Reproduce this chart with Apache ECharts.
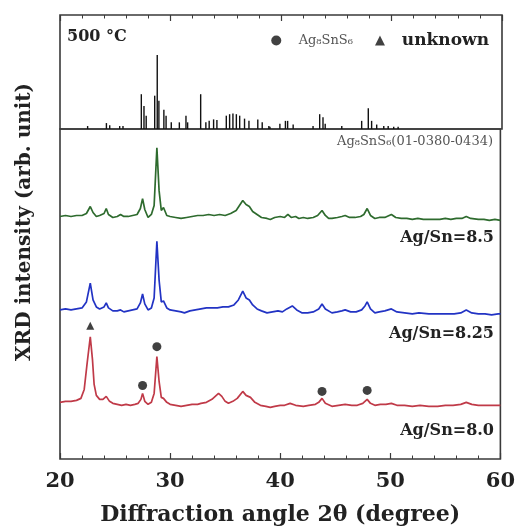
<!DOCTYPE html>
<html><head><meta charset="utf-8">
<script src="https://cdn.jsdelivr.net/npm/echarts@6/dist/echarts.min.js"></script>
<style>html,body{margin:0;padding:0;background:#fff}#c{width:518px;height:531px}</style>
</head><body><div id="c"></div>
<script>
// Reference stick pattern Ag8SnS6 (01-0380-0434): [2theta, relative intensity]
const refSticks = [
 [22.5,4],[24.2,8],[24.5,5],[25.4,4],[25.7,4],[27.36,47],[27.6,31],[27.8,18],
 [28.57,45],[28.8,100],[28.95,38],[29.4,26],[29.6,18],[30.07,9],[30.8,9],[31.4,18],[31.55,9],
 [32.73,47],[33.2,9],[33.5,11],[33.9,13],[34.2,12],[35.05,18],[35.35,20],[35.65,21],[35.96,20],
 [36.26,18],[36.7,14],[37.1,11],[37.9,13],[38.3,9],[38.9,4],[39.0,3],[39.9,7],[40.4,11],[40.6,11],
 [41.1,6],[42.9,4],[43.5,20],[43.8,16],[44.0,7],[45.5,4],[47.3,11],[47.9,28],[48.2,11],[48.66,6],
 [49.3,4],[49.7,4],[50.2,3],[50.6,3]
];
// Ag/Sn = 8.5 (green), offset included
const ag85 = [
 [20.0,244],[20.5,245],[21.0,244],[21.5,245],[22.0,245],[22.4,247],[22.75,254],[23.0,248],[23.3,244],[23.6,245],
 [24.0,247],[24.2,252],[24.4,246],[24.8,243],[25.2,244],[25.5,246],[25.8,244],[26.2,244],[26.6,245],[27.0,246],
 [27.3,252],[27.5,262],[27.7,251],[28.0,243],[28.3,246],[28.55,255],[28.8,313],[29.0,270],[29.2,250],[29.4,253],
 [29.7,245],[30.0,244],[30.5,243],[31.0,242],[31.5,243],[32.0,244],[32.5,245],[33.0,245],[33.5,246],[34.0,245],
 [34.5,246],[35.0,245],[35.5,247],[36.0,250],[36.3,255],[36.6,260],[36.9,256],[37.2,254],[37.5,249],[37.9,246],
 [38.3,243],[38.8,242],[39.1,241],[39.5,243],[40.0,244],[40.4,243],[40.7,246],[41.0,243],[41.4,244],[41.7,242],
 [42.1,243],[42.5,242],[43.0,243],[43.4,245],[43.8,250],[44.1,245],[44.4,242],[44.7,242],[45.2,243],[45.6,244],
 [45.9,245],[46.3,243],[46.8,243],[47.3,244],[47.6,246],[47.9,252],[48.2,245],[48.6,242],[49.0,243],[49.5,243],
 [50.1,246],[50.5,243],[51.0,242],[51.5,242],[52.0,241],[52.5,242],[53.0,241],[53.5,241],[54.0,241],[54.5,241],
 [55.0,242],[55.5,241],[56.0,242],[56.5,242],[56.9,244],[57.3,242],[58.0,241],[58.5,241],[59.0,240],[59.5,241],[60.0,240]
];
// Ag/Sn = 8.25 (blue)
const ag825 = [
 [20.0,150],[20.5,151],[21.0,150],[21.5,151],[22.0,152],[22.4,158],[22.75,177],[23.0,160],[23.3,153],[23.6,151],
 [24.0,153],[24.2,157],[24.4,152],[24.8,149],[25.2,149],[25.5,150],[25.8,148],[26.2,149],[26.6,150],[27.0,151],
 [27.3,157],[27.5,166],[27.7,156],[28.0,150],[28.3,152],[28.55,162],[28.8,219],[29.0,180],[29.2,158],[29.4,159],
 [29.7,152],[30.0,150],[30.5,149],[31.0,148],[31.3,147],[31.8,149],[32.3,150],[32.8,151],[33.3,152],[33.8,152],
 [34.3,152],[34.8,153],[35.3,153],[35.8,155],[36.2,160],[36.6,169],[36.9,162],[37.2,160],[37.5,155],[37.9,151],
 [38.3,149],[38.8,147],[39.3,148],[39.8,149],[40.2,148],[40.6,151],[41.1,154],[41.5,150],[42.0,147],[42.5,147],
 [43.0,148],[43.5,151],[43.8,156],[44.1,151],[44.7,147],[45.2,148],[45.6,149],[45.9,150],[46.4,148],[46.9,148],
 [47.4,150],[47.7,154],[47.9,158],[48.2,151],[48.6,147],[49.0,148],[49.5,149],[50.1,151],[50.6,148],[51.3,147],
 [52.0,146],[52.6,147],[53.5,146],[54.2,146],[55.0,146],[55.8,146],[56.4,147],[56.9,150],[57.4,147],[58.0,146],
 [58.6,146],[59.2,145],[59.8,146],[60.0,146]
];
// Ag/Sn = 8.0 (red)
const ag80 = [
 [20.0,57],[20.5,58],[21.0,58],[21.5,59],[21.9,61],[22.2,70],[22.45,95],[22.75,123],[22.95,100],[23.1,75],
 [23.3,64],[23.6,60],[23.9,60],[24.2,63],[24.5,58],[24.8,56],[25.2,55],[25.6,54],[26.0,55],[26.4,54],
 [26.8,55],[27.1,56],[27.35,60],[27.5,66],[27.7,58],[28.0,55],[28.3,57],[28.55,66],[28.8,103],[29.0,78],
 [29.2,62],[29.4,61],[29.7,57],[30.0,55],[30.5,54],[31.0,53],[31.5,54],[32.0,55],[32.5,55],[32.8,56],
 [33.3,57],[33.8,60],[34.1,63],[34.4,66],[34.7,63],[35.0,58],[35.3,56],[35.7,58],[36.1,61],[36.6,68],
 [36.9,64],[37.3,62],[37.7,57],[38.2,54],[38.7,53],[39.1,52],[39.5,53],[40.0,54],[40.4,54],[40.9,56],
 [41.4,54],[42.1,53],[42.6,54],[43.2,55],[43.5,57],[43.8,61],[44.1,56],[44.7,53],[45.3,54],[45.9,55],
 [46.5,54],[47.0,54],[47.5,56],[47.9,60],[48.2,56],[48.6,54],[49.1,55],[49.6,55],[50.1,56],[50.6,54],
 [51.3,54],[52.0,53],[52.7,54],[53.5,53],[54.3,53],[55.0,54],[55.7,54],[56.4,55],[56.9,57],[57.4,55],
 [58.0,54],[58.7,54],[59.3,54],[60.0,54]
];
// phase markers on the Ag/Sn=8.0 pattern
const ag8SnS6Marks = [[27.5,74],[28.8,113],[43.8,68],[47.9,69]];
const unknownMarks = [[22.75,134]];
const xTicks = [20,30,40,50,60];
const sampleLabels = ['Ag/Sn=8.5','Ag/Sn=8.25','Ag/Sn=8.0'];

const serif = '"DejaVu Serif",serif';
const frame = '#3a3a3a';
const chart = echarts.init(document.getElementById('c'));
const xCommon = {
  type:'value', min:xTicks[0], max:xTicks[xTicks.length-1], interval:10,
  axisLine:{show:false, onZero:false}, splitLine:{show:false},
  axisTick:{show:true, inside:true, length:6, lineStyle:{color:frame, width:1.2}},
  minorTick:{show:true, splitNumber:5, length:3.5, lineStyle:{color:frame, width:1}}
};
chart.setOption({
  animation:false,
  grid:[
    {left:60, right:16, top:15, height:114, show:true, borderColor:frame, borderWidth:1.6, backgroundColor:'transparent'},
    {left:60, right:16, top:129, height:332, show:true, borderColor:frame, borderWidth:1.6, backgroundColor:'transparent'}
  ],
  xAxis:[
    Object.assign({}, xCommon, {gridIndex:0, position:'top', axisLabel:{show:false}}),
    Object.assign({}, xCommon, {gridIndex:1, position:'bottom',
      axisLabel:{show:true, margin:12, fontFamily:serif, fontWeight:'bold', fontSize:21, color:'#222',
        formatter:v=>xTicks.includes(v)?String(v):''},
      name:'Diffraction angle 2θ (degree)', nameLocation:'middle', nameGap:45,
      nameTextStyle:{fontFamily:serif, fontWeight:'bold', fontSize:22, color:'#222'}})
  ],
  yAxis:[
    {type:'value', gridIndex:0, min:0, max:154, show:false},
    {type:'value', gridIndex:1, min:0, max:332, show:false}
  ],
  legend:{
    right:24, top:27, itemWidth:10, itemHeight:10, itemGap:22, selectedMode:false,
    formatter:n=>(n==='unknown'?'  ':'   ')+n,
    data:[
      {name:'Ag₈SnS₆', icon:'circle', textStyle:{fontFamily:serif, fontSize:13, color:'#555'}},
      {name:'unknown', icon:'triangle', textStyle:{fontFamily:serif, fontSize:17, fontWeight:'bold', color:'#222'}}
    ]
  },
  graphic:[
    {type:'text', left:67, top:29, style:{text:'500 °C', font:'bold 16px '+serif, fill:'#222'}},
    {type:'text', right:25, top:135, style:{text:'Ag₈SnS₆(01-0380-0434)', font:'13px '+serif, fill:'#555'}},
    {type:'text', right:24, top:230, style:{text:sampleLabels[0], font:'bold 16px '+serif, fill:'#222'}},
    {type:'text', right:24, top:326, style:{text:sampleLabels[1], font:'bold 16px '+serif, fill:'#222'}},
    {type:'text', right:24, top:423, style:{text:sampleLabels[2], font:'bold 16px '+serif, fill:'#222'}},
    {type:'text', x:25, y:222, rotation:Math.PI/2,
      style:{text:'XRD intensity (arb. unit)', font:'bold 20px '+serif, fill:'#222', textAlign:'center', textVerticalAlign:'middle'}}
  ],
  series:[
    {type:'bar', xAxisIndex:0, yAxisIndex:0, data:refSticks, barWidth:1.4, itemStyle:{color:'#111'}, silent:true},
    {type:'line', xAxisIndex:1, yAxisIndex:1, data:ag85, showSymbol:false, lineStyle:{color:'#2e6b2e', width:1.7}},
    {type:'line', xAxisIndex:1, yAxisIndex:1, data:ag825, showSymbol:false, lineStyle:{color:'#2233c4', width:1.7}},
    {type:'line', xAxisIndex:1, yAxisIndex:1, data:ag80, showSymbol:false, lineStyle:{color:'#c03a48', width:1.7}},
    {name:'Ag₈SnS₆', type:'scatter', xAxisIndex:1, yAxisIndex:1, data:ag8SnS6Marks, symbol:'circle', symbolSize:9, itemStyle:{color:'#111'}},
    {name:'unknown', type:'scatter', xAxisIndex:1, yAxisIndex:1, data:unknownMarks, symbol:'triangle', symbolSize:8, itemStyle:{color:'#111'}}
  ]
});
</script></body></html>
